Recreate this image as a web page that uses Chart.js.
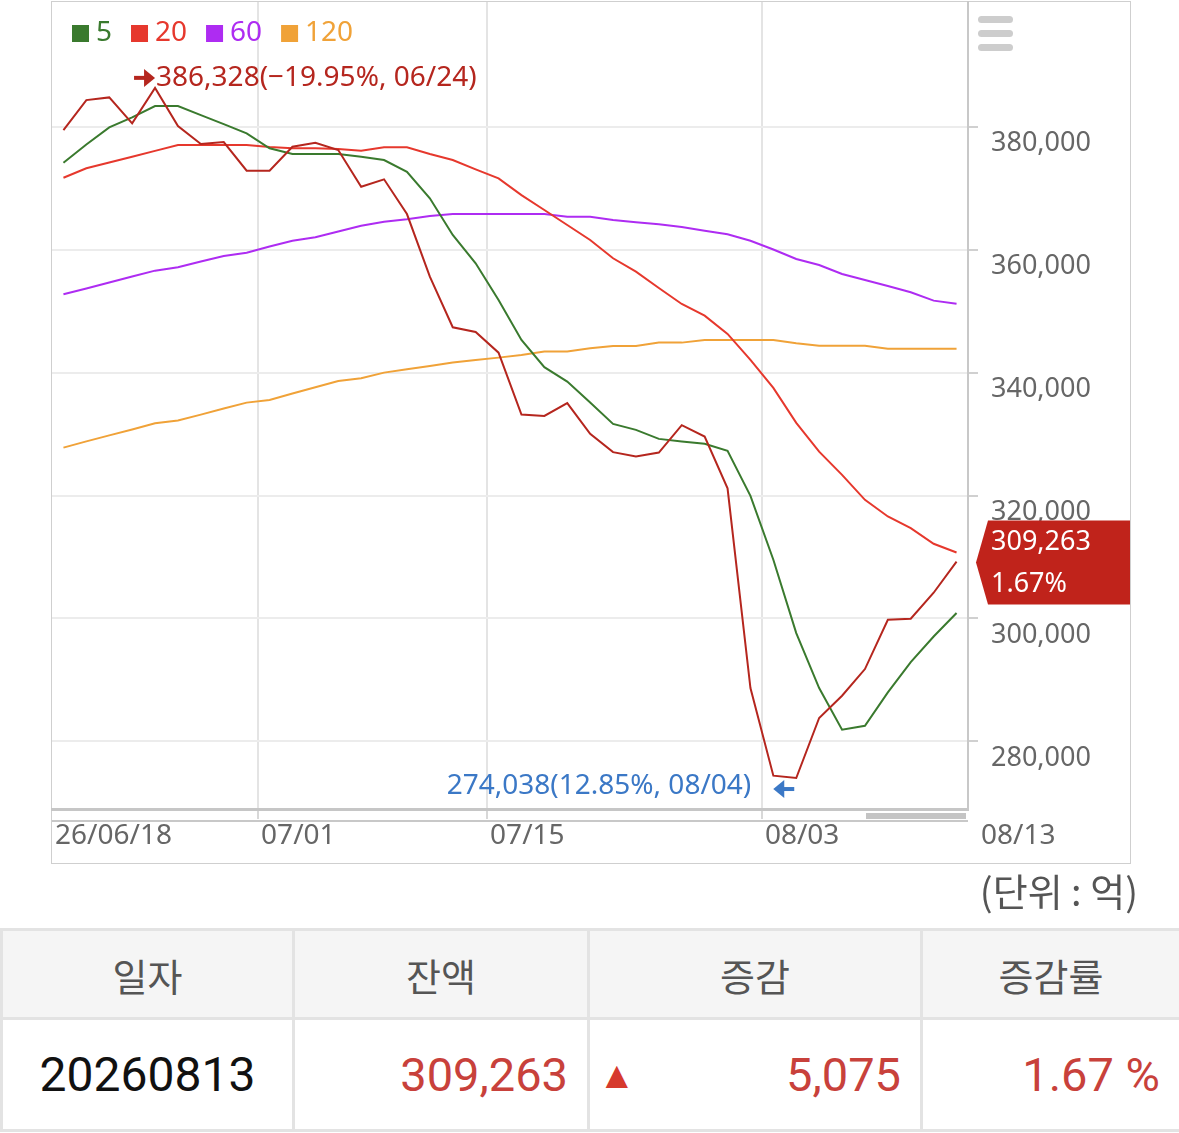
<!DOCTYPE html>
<html>
<head>
<meta charset="utf-8">
<script src="https://cdn.jsdelivr.net/npm/chart.js@4.4.1/dist/chart.umd.min.js"></script>
<style>
body { margin: 0; background: #fff; width: 1179px; height: 1133px; position: relative; overflow: hidden; }
#box { position: absolute; left: 51px; top: 1px; width: 1078px; height: 861px; border: 1px solid #cfcfcf; }
#c { position: absolute; left: 0; top: 0; }
#unit { position: absolute; right: 41px; top: 862px; line-height: 46px; font: 400 38px "Noto Sans CJK KR"; color: #555; }
#tbl { position: absolute; left: 0; top: 928px; width: 1179px; border-collapse: collapse; table-layout: fixed; }
#tbl th, #tbl td { border: 3px solid #e3e3e3; padding: 0 19px; }
#tbl th { height: 86px; background: #f5f5f5; color: #555; font: 400 38px "Noto Sans CJK KR"; text-align: center; }
#tbl td { height: 109px; font: 400 47px Roboto; color: #c8413b; text-align: right; }
#tbl td.d { color: #111; text-align: center; font-size: 48px; }
.sp { display: flex; justify-content: space-between; align-items: center; }
.tri { font-size: 38px; color: #d63a2d; margin-left: -11px; }
</style>
</head>
<body>
<div id="box"></div>
<canvas id="c" width="1179" height="870"></canvas>
<div id="unit">(단위 : 억)</div>
<table id="tbl">
  <colgroup><col style="width:292px"><col style="width:295px"><col style="width:333px"><col style="width:259px"></colgroup>
  <tr><th>일자</th><th>잔액</th><th>증감</th><th>증감률</th></tr>
  <tr><td class="d" id="tDate"></td><td id="tBal"></td><td><div class="sp"><span class="tri">▲</span><span id="tChg"></span></div></td><td id="tPct"></td></tr>
</table>
<script>
var year = '2026';
var dates = ['06/18', '06/19', '06/22', '06/23', '06/24', '06/25', '06/26', '06/29', '06/30',
    '07/01', '07/02', '07/03', '07/06', '07/07', '07/08', '07/09', '07/10', '07/13', '07/14', '07/15',
    '07/16', '07/20', '07/21', '07/22', '07/23', '07/24', '07/27', '07/28', '07/29', '07/30', '07/31',
    '08/03', '08/04', '08/05', '08/06', '08/07', '08/10', '08/11', '08/12', '08/13'];
var balance = [379460, 384340, 384780, 380550, 386328, 380110, 377190, 377510, 372850, 372850,
    376750, 377400, 376210, 370240, 371450, 365800, 355610, 347380, 346620, 343250,
    333170, 332960, 335030, 330030, 327060, 326340, 326990, 331450, 329590, 321170,
    288680, 274420, 274038, 283810, 287430, 291770, 299790, 299950, 304188, 309263];
var ma5 = [374150, 377110, 379900, 381530, 383370, 383370, 381900, 380440, 378930, 376490,
    375560, 375560, 375560, 375120, 374590, 372680, 368360, 362390, 357790, 351820,
    345320, 340880, 338540, 335120, 331660, 330680, 329220, 328780, 328410, 327270,
    319950, 309550, 297630, 288680, 281900, 282550, 287970, 292910, 297070, 300900];
var ma20 = [371710, 373240, 374180, 375120, 376080, 377020, 377020, 377020, 377020, 376700,
    376490, 376490, 376370, 376100, 376650, 376650, 375560, 374590, 373070, 371610,
    368890, 366460, 364020, 361580, 358600, 356420, 353770, 351170, 349270, 346290,
    342070, 337510, 331820, 327150, 323370, 319300, 316590, 314700, 312150, 310730];
var ma60 = [352750, 353690, 354670, 355640, 356590, 357140, 358080, 358980, 359510, 360520,
    361460, 362020, 362960, 363900, 364550, 364940, 365480, 365800, 365800, 365800,
    365800, 365800, 365370, 365370, 364830, 364460, 364130, 363690, 363090, 362500,
    361460, 360030, 358490, 357510, 356050, 355080, 354100, 353070, 351710, 351220];
var ma120 = [327800, 328810, 329790, 330760, 331770, 332200, 333170, 334150, 335120, 335560,
    336590, 337630, 338650, 339090, 340000, 340550, 341090, 341630, 342070, 342440,
    342880, 343420, 343420, 343970, 344340, 344340, 344880, 344880, 345320, 345320,
    345320, 345320, 344780, 344390, 344390, 344390, 343900, 343900, 343900, 343900];
var yTicks = [280000, 300000, 320000, 340000, 360000, 380000];
var xTickIdx = [0, 9, 19, 31];
var xTickText = ['26/06/18', '07/01', '07/15', '08/03'];
var lastTickText = '08/13';

var FONT = '"Noto Sans", sans-serif';
var last = balance.length - 1;
var change = balance[last] - balance[last - 1];
var changePct = change / balance[last - 1] * 100;

function fmt(v) { return v.toLocaleString('en-US'); }

// date row of the table
document.getElementById('tDate').textContent = year + dates[last].replace('/', '');
document.getElementById('tBal').textContent = fmt(balance[last]);
document.getElementById('tChg').textContent = fmt(change);
document.getElementById('tPct').textContent = changePct.toFixed(2) + ' %';

var overlay = {
    id: 'overlay',
    afterDraw: function (chart) {
        var ctx = chart.ctx;
        var area = chart.chartArea;
        var xs = chart.scales.x;
        var step = xs.getPixelForValue(1) - xs.getPixelForValue(0);
        ctx.save();

        // x labels, left aligned on the grid lines
        ctx.font = '28px ' + FONT;
        ctx.fillStyle = '#666';
        ctx.textBaseline = 'middle';
        ctx.textAlign = 'left';
        xTickIdx.forEach(function (idx, k) {
            ctx.fillText(xTickText[k], xs.getPixelForValue(idx) - step / 2 + 3, area.bottom + 27);
        });
        ctx.fillText(lastTickText, area.right + 13, area.bottom + 27);

        // navigator leftovers
        ctx.fillStyle = '#c8c8c8';
        ctx.fillRect(area.left, area.bottom + 11, area.right - area.left, 2);
        ctx.fillStyle = '#c4c4c4';
        ctx.fillRect(area.right - 102, area.bottom + 4, 100, 6);

        // menu icon
        ctx.fillStyle = '#cdcdcd';
        [16, 30, 44].forEach(function (y) {
            ctx.beginPath();
            ctx.roundRect(area.right + 10, y, 35, 7, 3.5);
            ctx.fill();
        });

        // legend
        var lx = 72;
        ctx.font = '28px ' + FONT;
        chart.data.datasets.forEach(function (ds, i) {
            if (i === 0) return;
            ctx.fillStyle = ds.borderColor;
            ctx.fillRect(lx, 25, 17, 17);
            ctx.fillText(ds.label, lx + 24, 33);
            lx += 24 + ctx.measureText(ds.label).width + 19;
        });

        var meta = chart.getDatasetMeta(0);

        // max marker
        var maxV = Math.max.apply(null, balance);
        var maxI = balance.indexOf(maxV);
        var pMax = meta.data[maxI];
        var maxPct = (balance[last] / maxV - 1) * 100;
        var ty = pMax.y - 10;
        ctx.fillStyle = '#b5261e';
        ctx.strokeStyle = '#b5261e';
        ctx.lineWidth = 4;
        ctx.beginPath();
        ctx.moveTo(pMax.x - 21, ty);
        ctx.lineTo(pMax.x - 10, ty);
        ctx.stroke();
        ctx.beginPath();
        ctx.moveTo(pMax.x, ty);
        ctx.lineTo(pMax.x - 11, ty - 9);
        ctx.lineTo(pMax.x - 11, ty + 9);
        ctx.closePath();
        ctx.fill();
        ctx.textAlign = 'left';
        ctx.fillText(fmt(maxV) + '(' + (maxPct < 0 ? '\u2212' : '') + Math.abs(maxPct).toFixed(2) + '%, ' + dates[maxI] + ')', pMax.x + 1, ty);

        // min marker
        var minV = Math.min.apply(null, balance);
        var minI = balance.indexOf(minV);
        var pMin = meta.data[minI];
        var minPct = (balance[last] / minV - 1) * 100;
        ctx.fillStyle = '#3b78c6';
        ctx.strokeStyle = '#3b78c6';
        ctx.textAlign = 'right';
        ctx.fillText(fmt(minV) + '(' + minPct.toFixed(2) + '%, ' + dates[minI] + ')', pMin.x - 45, pMin.y + 8);
        var ay = pMin.y + 11;
        ctx.lineWidth = 4;
        ctx.beginPath();
        ctx.moveTo(pMin.x - 2, ay);
        ctx.lineTo(pMin.x - 13, ay);
        ctx.stroke();
        ctx.beginPath();
        ctx.moveTo(pMin.x - 23, ay);
        ctx.lineTo(pMin.x - 12, ay - 9);
        ctx.lineTo(pMin.x - 12, ay + 9);
        ctx.closePath();
        ctx.fill();

        // last value badge
        var pLast = meta.data[last];
        var by = pLast.y + 1;
        ctx.fillStyle = '#c0231b';
        ctx.beginPath();
        ctx.moveTo(area.right + 8, by);
        ctx.lineTo(area.right + 20, by - 42);
        ctx.lineTo(area.right + 162, by - 42);
        ctx.lineTo(area.right + 162, by + 42);
        ctx.lineTo(area.right + 20, by + 42);
        ctx.closePath();
        ctx.fill();
        ctx.fillStyle = '#fff';
        ctx.textAlign = 'left';
        ctx.font = '27px ' + FONT;
        ctx.fillText(fmt(balance[last]), area.right + 23, by - 20);
        ctx.fillText(changePct.toFixed(2) + '%', area.right + 23, by + 22);

        ctx.restore();
    }
};

function lineSet(label, data, color) {
    return {
        label: label,
        data: data,
        borderColor: color,
        backgroundColor: color,
        borderWidth: 2,
        pointRadius: 0,
        tension: 0,
        fill: false
    };
}

var chart = new Chart(document.getElementById('c'), {
    type: 'line',
    data: {
        labels: dates,
        datasets: [
            lineSet('잔액', balance, '#b5261e'),
            lineSet('5', ma5, '#3a7a2e'),
            lineSet('20', ma20, '#e6382d'),
            lineSet('60', ma60, '#ae2cf2'),
            lineSet('120', ma120, '#f0a238')
        ]
    },
    options: {
        responsive: false,
        animation: false,
        devicePixelRatio: 1,
        layout: { padding: { left: 52, top: 2, right: 49, bottom: 0 } },
        plugins: {
            legend: { display: false },
            tooltip: { enabled: false }
        },
        scales: {
            x: {
                type: 'category',
                offset: true,
                afterFit: function (s) { s.height = 61; s.paddingLeft = 0; s.paddingRight = 0; },
                ticks: { display: false, autoSkip: false },
                grid: {
                    offset: true,
                    lineWidth: 2,
                    tickLength: 10,
                    color: function (c) {
                        return xTickIdx.indexOf(c.index) > 0 ? '#e4e4e4' : 'transparent';
                    },
                    tickColor: function (c) {
                        return xTickIdx.indexOf(c.index) > 0 ? '#d8d8d8' : 'transparent';
                    }
                },
                border: { display: true, color: '#c6c6c6', width: 3 }
            },
            y: {
                position: 'right',
                min: 269000,
                max: 400300,
                afterBuildTicks: function (s) {
                    s.ticks = yTicks.map(function (v) { return { value: v }; });
                },
                afterFit: function (s) { s.width = 162; s.paddingTop = 0; s.paddingBottom = 0; },
                ticks: {
                    padding: 13,
                    labelOffset: 17,
                    color: '#666',
                    font: { family: FONT, size: 27 },
                    callback: function (v) { return fmt(v); }
                },
                grid: { color: '#ececec', lineWidth: 2, tickLength: 10, tickColor: '#d0d0d0' },
                border: { display: true, color: '#c8c8c8', width: 2 }
            }
        }
    },
    plugins: [overlay]
});
</script>
</body>
</html>
